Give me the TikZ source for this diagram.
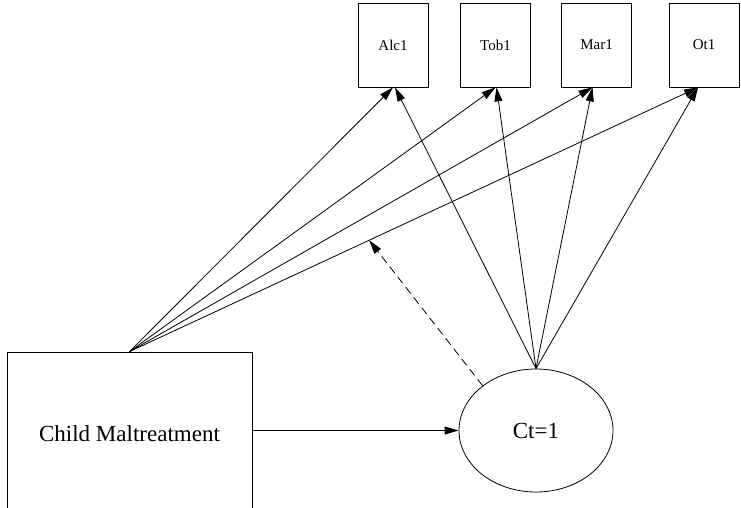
\documentclass[tikz,border=0pt]{standalone}
\usepackage{fontspec}
\setmainfont{Liberation Serif}
\usetikzlibrary{arrows.meta,shapes.geometric}
\begin{document}
\begin{tikzpicture}[x=1pt,y=-1pt,
  line width=0.8pt,
  obs/.style={draw, rectangle, minimum width=70pt, minimum height=84pt, inner sep=0pt, font=\fontsize{15}{17}\selectfont},
  big/.style={draw, rectangle, minimum width=245pt, minimum height=163pt, inner sep=0pt, font=\fontsize{23}{26}\selectfont},
  latent/.style={draw, ellipse, minimum width=154pt, minimum height=123pt, inner sep=0pt, font=\fontsize{23}{26}\selectfont},
  arr/.style={-{Triangle[length=14pt,width=8pt]}},
  dasharr/.style={arr, dash pattern=on 8pt off 5pt}]
\useasboundingbox (0,0) rectangle (741,507);
\clip (0,0) rectangle (741,507);

% outcome indicators
\node[obs] (alc) at (393,45) {Alc1};
\node[obs] (tob) at (495.5,45) {Tob1};
\node[obs] (mar) at (596.5,45) {Mar1};
\node[obs] (ot)  at (704,45) {Ot1};

% predictor and latent class
\node[big] (cm) at (129.5,433.5) {Child Maltreatment};
\node[latent] (ct) at (536,430.5) {Ct=1};

% direct effects
\draw[arr] (cm.north) -- (alc.south);
\draw[arr] (cm.north) -- (tob.south);
\draw[arr] (cm.north) -- ([xshift=-4pt]mar.south);
\draw[arr] (cm.north) -- ([xshift=-6pt]ot.south) coordinate[pos=0.4215] (mod);

% class effects
\draw[arr] (ct.north) -- ([xshift=2pt]alc.south);
\draw[arr] (ct.north) -- ([xshift=1pt]tob.south);
\draw[arr] (ct.north) -- ([xshift=-4pt]mar.south);
\draw[arr] (ct.north) -- ([xshift=-6pt]ot.south);

\draw[arr] (cm.east |- ct.west) -- (ct.west);

% moderation of the path to Ot1
\draw[dasharr] (ct.140) -- (mod);
\end{tikzpicture}
\end{document}
